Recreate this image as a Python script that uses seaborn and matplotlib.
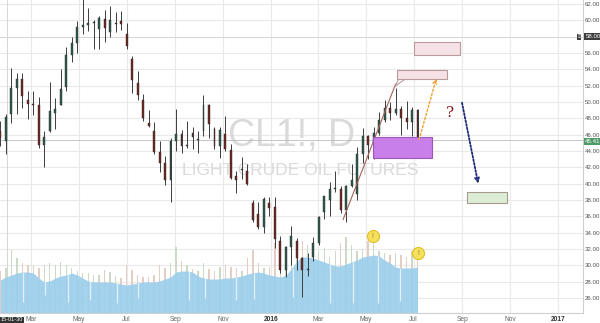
import numpy as np
import pandas as pd
import matplotlib
matplotlib.use("Agg")
import matplotlib.pyplot as plt
import matplotlib.dates as mdates
from matplotlib.patches import Rectangle, FancyArrowPatch, Polygon
import seaborn as sns

# ---------------- data (weekly) ----------------
weeks = pd.date_range("2015-01-21", periods=77, freq="7D")

opens = [46.4, 45.2, 48.5, 51.7, 52.8, 50.3, 49.8, 49.6, 44.8, 46.5,
         48.6, 49.6, 51.9, 55.7, 57.2, 59.2, 59.4, 59.7, 59.0, 60.2,
         58.6, 59.6, 59.9, 58.3, 55.3, 52.3, 50.2, 47.4, 46.5, 43.9,
         42.5, 40.5, 45.2, 46.1, 44.6, 46.2, 45.4, 46.4, 49.6, 46.7,
         44.6, 46.1, 44.1, 41.0, 41.7, 41.6, 37.7, 36.3, 34.7, 37.7,
         37.1, 33.0, 29.4, 32.2, 33.0, 30.9, 29.4, 31.0, 32.8, 36.5,
         38.0, 39.4, 39.4, 36.8, 39.7, 38.7, 43.7, 45.9, 44.7, 46.2,
         47.8, 49.3, 48.6, 49.1, 48.0, 47.6, 49.0]
highs = [47.7, 48.5, 54.2, 53.6, 53.6, 51.3, 51.3, 50.6, 46.5, 52.5,
         50.5, 54.0, 56.7, 58.0, 59.9, 62.6, 61.5, 60.0, 60.5, 61.3,
         61.7, 61.0, 61.2, 59.7, 55.6, 53.8, 51.0, 49.0, 47.5, 45.2,
         43.4, 45.6, 49.2, 46.6, 47.7, 47.0, 46.5, 50.9, 49.8, 47.0,
         46.9, 48.3, 44.9, 41.5, 43.3, 42.4, 38.0, 37.8, 38.4, 38.4,
         38.4, 33.6, 32.4, 34.8, 33.4, 31.0, 31.5, 33.5, 36.0, 38.5,
         40.2, 41.5, 39.7, 39.8, 42.4, 44.5, 46.8, 46.0, 47.0, 48.8,
         50.2, 50.0, 51.7, 49.5, 50.1, 49.4, 49.2]
lows = [44.6, 43.6, 47.4, 48.5, 49.3, 47.9, 48.4, 44.4, 42.0, 46.3,
        46.7, 49.6, 51.3, 54.9, 56.0, 58.3, 58.7, 56.5, 56.5, 57.4,
        58.0, 58.6, 58.8, 56.5, 51.1, 50.3, 47.7, 46.9, 43.6, 41.4,
        39.9, 37.8, 44.0, 43.8, 44.4, 44.2, 43.8, 45.9, 45.6, 44.3,
        43.2, 44.0, 40.6, 38.9, 40.6, 39.8, 35.3, 34.5, 34.0, 36.0,
        32.1, 29.1, 28.6, 30.0, 29.5, 26.1, 28.7, 30.6, 32.5, 35.7,
        36.0, 39.0, 36.4, 35.3, 39.6, 38.0, 42.5, 43.0, 43.0, 46.0,
        47.6, 47.8, 48.4, 46.0, 46.7, 45.8, 44.8]
closes = [45.6, 48.2, 51.7, 52.8, 50.8, 49.8, 49.6, 44.8, 45.7, 48.9,
          49.1, 51.6, 55.7, 57.2, 59.2, 59.4, 59.7, 59.7, 60.3, 59.1,
          60.0, 59.6, 59.6, 56.9, 52.7, 50.9, 48.1, 47.1, 43.9, 42.5,
          40.5, 45.2, 46.1, 44.6, 44.7, 45.7, 45.5, 49.6, 47.3, 44.6,
          46.6, 44.3, 40.7, 40.4, 41.7, 40.0, 35.6, 34.7, 38.1, 37.0,
          33.2, 29.4, 32.2, 33.6, 30.9, 29.4, 29.6, 32.8, 35.9, 38.5,
          39.4, 39.5, 36.8, 39.7, 40.4, 43.7, 45.9, 44.7, 46.2, 47.8,
          49.3, 48.6, 49.1, 48.0, 47.6, 49.0, 45.4]
# volume panel (relative units, panel height = 313)
volume = [42, 45, 63, 55, 50, 48, 47, 45, 48, 50,
          48, 51, 48, 45, 42, 40, 40, 38, 38, 43,
          41, 37, 35, 48, 43, 38, 36, 36, 38, 48,
          45, 50, 66, 52, 48, 44, 42, 50, 44, 42,
          46, 48, 46, 45, 42, 55, 63, 50, 45, 46,
          70, 60, 66, 60, 62, 72, 68, 60, 62, 65,
          56, 62, 70, 76, 68, 62, 64, 72, 70, 62,
          60, 58, 60, 58, 56, 62, 55]
vol_area = [33, 36, 38, 40, 41, 41, 40, 35, 31, 32,
            35, 37, 38, 40, 38, 35, 32, 31, 31, 31,
            31, 30, 29, 28, 29, 30, 31, 31, 31, 32,
            34, 36, 41, 42, 42, 41, 37, 35, 34, 34,
            34, 35, 35, 36, 37, 39, 40, 41, 40, 38,
            37, 36, 38, 44, 52, 56, 56, 55, 53, 51,
            49, 47, 47, 49, 51, 53, 56, 57, 58, 57,
            53, 50, 46, 45, 45, 45, 46]
dip_dates = pd.to_datetime(["2015-02-19", "2015-03-19", "2015-04-17", "2015-05-15",
                            "2015-06-19", "2015-07-15", "2015-09-18", "2015-10-09",
                            "2015-11-17", "2015-12-11", "2016-01-29", "2016-03-16",
                            "2016-04-15", "2016-05-17", "2016-06-14"])
dip_low = [11, 18, 11, 13, 10, 15, 13, 15, 13, 14, 16, 10, 10, 10, 12]
dip_top = [41, 31, 38, 32, 30, 30, 42, 35, 36, 40, 44, 49, 51, 57, 45]

price_ticks = list(range(26, 63, 2))
month_ticks = ["2015-03-01", "2015-05-01", "2015-07-01", "2015-09-01", "2015-11-01",
               "2016-01-01", "2016-03-01", "2016-05-01", "2016-07-01", "2016-09-01",
               "2016-11-01", "2017-01-01"]
month_labels = ["Mar", "May", "Jul", "Sep", "Nov", "2016", "Mar", "May", "Jul",
                "Sep", "Nov", "2017"]
last_price = 45.41
cross_price = 58.00
cross_date = "2015-01-30"
cross_label = "15-01-30"

# ---------------- figure ----------------
sns.set_theme(style="white")
plt.rcParams["font.family"] = ["Liberation Sans", "DejaVu Sans"]

fig = plt.figure(figsize=(6, 3.23), dpi=100)
fig.patch.set_facecolor("white")
ax = fig.add_axes([0, 10 / 323, 583 / 600, 313 / 323])
ax.set_facecolor("white")

x = mdates.date2num(weeks)
xmin = mdates.date2num(pd.Timestamp("2015-01-20 12:00"))
xmax = mdates.date2num(pd.Timestamp("2017-02-02"))
ax.set_xlim(xmin, xmax)
ax.set_ylim(24.18, 62.49)

# grid
for p in price_ticks:
    ax.axhline(p, color="#e9e9e9", lw=0.8, zorder=0)
for d in month_ticks:
    ax.axvline(mdates.date2num(pd.Timestamp(d)), color="#e9e9e9", lw=0.8, zorder=0)

# crosshair
ax.axvline(mdates.date2num(pd.Timestamp(cross_date)), color="#d6d6d6", lw=0.7, zorder=0.5)
ax.axhline(cross_price, color="#d6d6d6", lw=0.7, zorder=0.5)

# watermark
ax.text(0.5, 0.565, "CL1!, D", transform=ax.transAxes, ha="center", va="center",
        fontsize=27, color="#dadada", zorder=0.6)
ax.text(0.515, 0.455, "LIGHT CRUDE OIL FUTURES", transform=ax.transAxes, ha="center",
        va="center", fontsize=12.5, color="#dadada", zorder=0.6)

# volume panel
trans = ax.get_xaxis_transform()
VMAX = 313.0
up = np.array(closes) >= np.array(opens)
vcol = np.where(up, "#cbd9c6", "#e3cdc4")
ax.bar(x, np.array(volume) / VMAX, width=1.8, color=vcol, transform=trans,
       zorder=1, lw=0)
ax.fill_between(x, 0, np.array(vol_area) / VMAX, color="#9ccfec", alpha=0.92,
                lw=0, transform=trans, zorder=1.5)
ax.vlines(mdates.date2num(dip_dates), np.array(dip_low) / VMAX,
          np.array(dip_top) / VMAX, color="#e2f1fa", lw=0.9, transform=trans, zorder=1.6)

# candles
wick_col = "#3c3c3c"
ax.vlines(x, lows, highs, color=wick_col, lw=0.7, zorder=3)
body_lo = np.minimum(opens, closes)
body_h = np.maximum(np.abs(np.array(closes) - np.array(opens)), 0.12)
ccol = np.where(up, "#2f5b4b", "#742621")
ax.bar(x, body_h, bottom=body_lo, width=2.4, color=ccol, edgecolor="#2a2a2a",
       lw=0.3, zorder=4)

# zones
def D(s):
    return mdates.date2num(pd.Timestamp(s))

zones = [
    ("2016-07-02", "2016-08-29", 55.75, 57.35, "#f6e1e6", "#b89a9a"),
    ("2016-06-10", "2016-08-13", 52.80, 53.90, "#f6e1e6", "#b89a9a"),
    ("2016-05-10", "2016-07-25", 43.15, 45.72, "#c97fe8", "#9b59b6"),
    ("2016-09-07", "2016-10-28", 37.65, 39.00, "#dcedd5", "#a89a8a"),
]
for s, e, lo, hi, fc, ec in zones:
    ax.add_patch(Rectangle((D(s), lo), D(e) - D(s), hi - lo, facecolor=fc,
                           edgecolor=ec, lw=0.8, zorder=5))
# callout pointer for small pink zone
ax.add_patch(Polygon([(D("2016-06-12"), 52.80), (D("2016-06-07"), 51.9),
                      (D("2016-06-20"), 52.80)], closed=False, fill=False,
                     edgecolor="#b89a9a", lw=0.8, zorder=5))

# trend line
trend = pd.DataFrame({"d": [D("2016-04-02"), D("2016-06-08")], "p": [35.6, 52.2]})
sns.lineplot(data=trend, x="d", y="p", ax=ax, color="#a8605a", lw=0.8, zorder=4.5)

# arrows
ax.add_patch(FancyArrowPatch((D("2016-07-07"), 45.1), (D("2016-07-31"), 53.2),
                             arrowstyle="->", mutation_scale=7, color="#f0a030",
                             lw=1.0, linestyle=(0, (1.5, 1.5)), zorder=6))
ax.add_patch(FancyArrowPatch((D("2016-08-31"), 50.25), (D("2016-09-22"), 39.7),
                             arrowstyle="->", mutation_scale=7, color="#1c2a78",
                             lw=1.3, linestyle=(0, (1, 1)), zorder=6))
ax.text(D("2016-08-16"), 48.7, "?", fontsize=11, color="#8b1a1a", family="DejaVu Serif",
        ha="center", va="center", zorder=6)

# event markers
ev = pd.DataFrame({"d": [D("2016-05-10"), D("2016-07-07")], "p": [33.6, 31.5]})
sns.scatterplot(data=ev, x="d", y="p", ax=ax, s=75, color="#f7e15c",
                edgecolor="#e0c020", linewidth=0.8, zorder=7, legend=False)
for d, p in zip(ev["d"], ev["p"]):
    ax.text(d, p, "!", fontsize=5, color="#8a7a20", ha="center", va="center", zorder=8)

# axes / ticks
ax.yaxis.tick_right()
ax.set_yticks(price_ticks)
ax.set_yticklabels(["" if t == 58 else f"{t:.2f}" for t in price_ticks])
ax.tick_params(axis="y", length=0, pad=1.2, labelsize=4.4, labelcolor="#555555")
ax.set_xticks([D(d) for d in month_ticks])
ax.set_xticklabels(month_labels)
ax.tick_params(axis="x", length=0, pad=2.5, labelsize=4.8, labelcolor="#666666")
for lbl in ax.get_xticklabels():
    if lbl.get_text() in ("2016", "2017"):
        lbl.set_fontweight("bold")
        lbl.set_color("#333333")
ax.set_xlabel("")
ax.set_ylabel("")
for sp in ["top", "left"]:
    ax.spines[sp].set_visible(False)
ax.spines["right"].set_color("#cfcfcf")
ax.spines["bottom"].set_color("#cfcfcf")
ax.spines["right"].set_linewidth(0.8)
ax.spines["bottom"].set_linewidth(0.8)

# price labels on right axis
ytr = ax.get_yaxis_transform()
ax.text(1.004, cross_price, f"{cross_price:.2f}", transform=ytr, fontsize=4.4,
        color="white", ha="left", va="center", zorder=9, clip_on=False,
        bbox=dict(boxstyle="square,pad=0.2", fc="#3d3d3d", ec="none"))
ax.text(0.9935, cross_price, "≡", transform=ytr, fontsize=4.0, color="white",
        ha="center", va="center", zorder=9, clip_on=False,
        bbox=dict(boxstyle="square,pad=0.1", fc="#3d3d3d", ec="none"))
ax.axhline(last_price, color="#bdbdbd", lw=0.6, zorder=2)
ax.text(1.004, last_price - 0.25, f"{last_price:.2f}", transform=ytr, fontsize=4.4,
        color="white", ha="left", va="center", zorder=9, clip_on=False,
        bbox=dict(boxstyle="square,pad=0.2", fc="#4f9a66", ec="none"))
# crosshair date label
ax.text(0.001, -0.014, cross_label, transform=ax.transAxes, fontsize=4.0, color="white",
        ha="left", va="top", zorder=9, clip_on=False,
        bbox=dict(boxstyle="square,pad=0.15", fc="#333333", ec="none"))

fig.savefig("out.png", dpi=100, facecolor="white")
